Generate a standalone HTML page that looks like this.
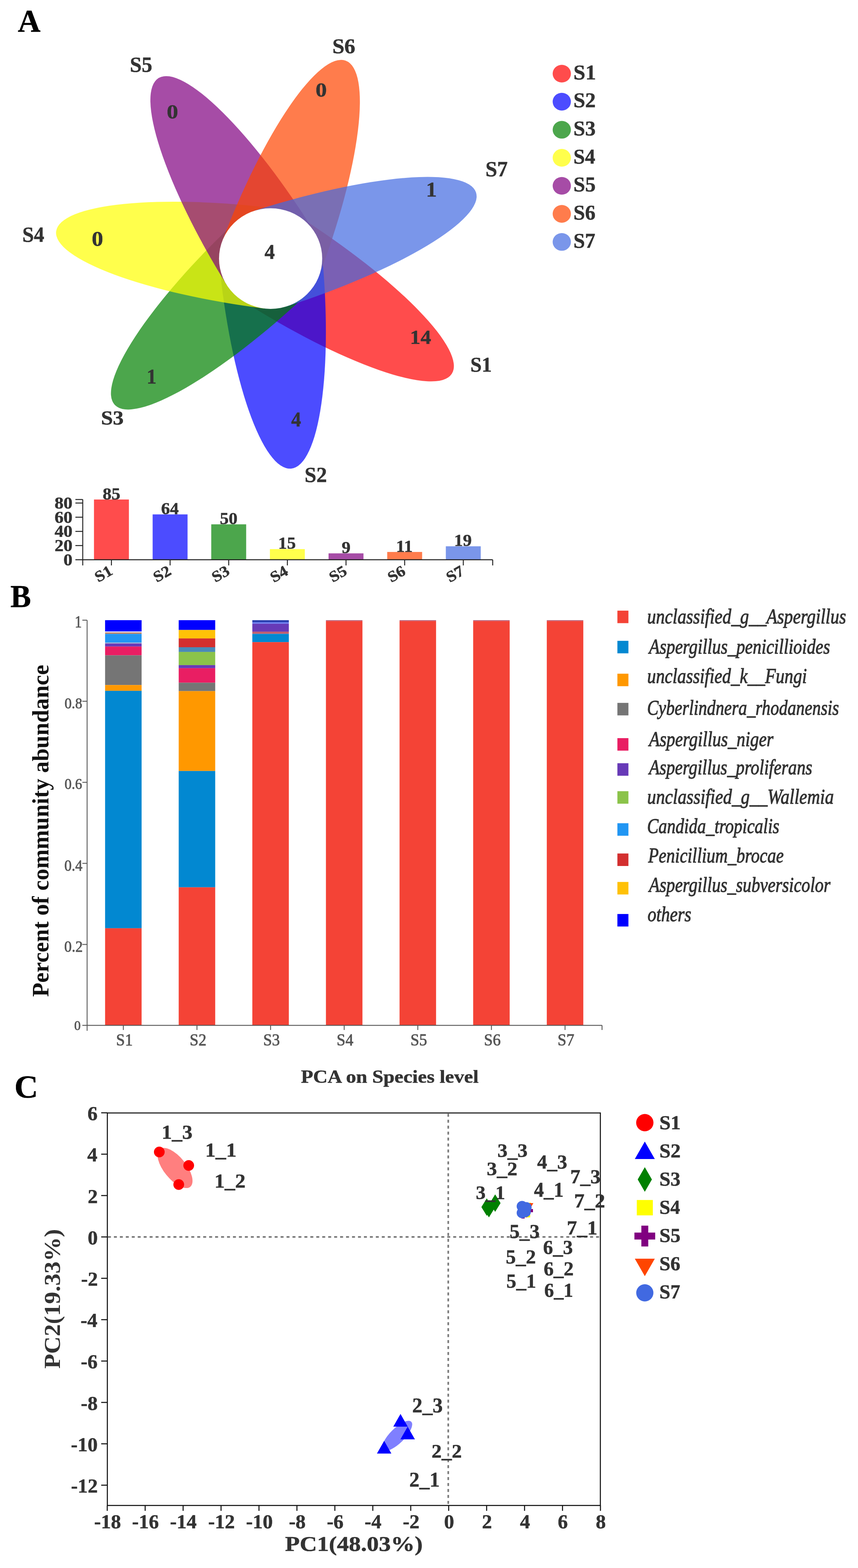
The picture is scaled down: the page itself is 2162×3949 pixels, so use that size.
<!DOCTYPE html>
<html><head><meta charset="utf-8"><title>Figure</title>
<style>html,body{margin:0;padding:0;background:#fff;}svg{display:block;}
text{font-family:"Liberation Serif","Times New Roman",serif;}</style></head>
<body><svg width="2162" height="3949" viewBox="0 0 2162 3949">
<rect width="2162" height="3949" fill="#fff"/>
<text x="45.1" y="79.5" font-size="80.2" font-weight="bold" font-style="normal" fill="#000" textLength="57.0" lengthAdjust="spacingAndGlyphs" stroke="#000" stroke-width="0.7" stroke-linejoin="round">A</text>
<g transform="translate(681.9,651.2) scale(1,0.975)">
<path d="M0,-130.0 A545.0,130.0 0 0 1 0,130.0 Z" transform="rotate(33.150)" fill="#ff0000" fill-opacity="0.7"/>
<path d="M0,-130.0 A545.0,130.0 0 0 1 0,130.0 Z" transform="rotate(84.579)" fill="#0000ff" fill-opacity="0.7"/>
<path d="M0,-130.0 A545.0,130.0 0 0 1 0,130.0 Z" transform="rotate(136.007)" fill="#008000" fill-opacity="0.7"/>
<path d="M0,-130.0 A545.0,130.0 0 0 1 0,130.0 Z" transform="rotate(187.436)" fill="#ffff00" fill-opacity="0.7"/>
<path d="M0,-130.0 A545.0,130.0 0 0 1 0,130.0 Z" transform="rotate(238.864)" fill="#800080" fill-opacity="0.7"/>
<path d="M0,-130.0 A545.0,130.0 0 0 1 0,130.0 Z" transform="rotate(290.293)" fill="#ff4500" fill-opacity="0.7"/>
<path d="M0,-130.0 A545.0,130.0 0 0 1 0,130.0 Z" transform="rotate(341.721)" fill="#4169e1" fill-opacity="0.7"/>
<circle cx="0" cy="0" r="130" fill="#fff"/>
</g>
<text x="666.6" y="651.6" font-size="53.6" font-weight="bold" font-style="normal" fill="#333" textLength="26.0" lengthAdjust="spacingAndGlyphs" stroke="#333" stroke-width="0.7" stroke-linejoin="round">4</text>
<text x="1033.1" y="865.6" font-size="51.1" font-weight="bold" font-style="normal" fill="#333" textLength="53.1" lengthAdjust="spacingAndGlyphs" stroke="#333" stroke-width="0.7" stroke-linejoin="round">14</text>
<text x="733.7" y="1073.7" font-size="52.1" font-weight="bold" font-style="normal" fill="#333" textLength="24.9" lengthAdjust="spacingAndGlyphs" stroke="#333" stroke-width="0.7" stroke-linejoin="round">4</text>
<text x="369.4" y="965.6" font-size="52.0" font-weight="bold" font-style="normal" fill="#333" textLength="24.9" lengthAdjust="spacingAndGlyphs" stroke="#333" stroke-width="0.7" stroke-linejoin="round">1</text>
<text x="231.2" y="619.1" font-size="52.3" font-weight="bold" font-style="normal" fill="#333" textLength="28.7" lengthAdjust="spacingAndGlyphs" stroke="#333" stroke-width="0.7" stroke-linejoin="round">0</text>
<text x="420.2" y="297.7" font-size="51.7" font-weight="bold" font-style="normal" fill="#333" textLength="28.7" lengthAdjust="spacingAndGlyphs" stroke="#333" stroke-width="0.7" stroke-linejoin="round">0</text>
<text x="795.2" y="243.1" font-size="50.8" font-weight="bold" font-style="normal" fill="#333" textLength="28.2" lengthAdjust="spacingAndGlyphs" stroke="#333" stroke-width="0.7" stroke-linejoin="round">0</text>
<text x="1073.5" y="494.8" font-size="51.8" font-weight="bold" font-style="normal" fill="#333" textLength="27.3" lengthAdjust="spacingAndGlyphs" stroke="#333" stroke-width="0.7" stroke-linejoin="round">1</text>
<text x="1185.2" y="936.1" font-size="52.5" font-weight="bold" font-style="normal" fill="#333" textLength="54.1" lengthAdjust="spacingAndGlyphs" stroke="#333" stroke-width="0.7" stroke-linejoin="round">S1</text>
<text x="767.5" y="1214.1" font-size="54.0" font-weight="bold" font-style="normal" fill="#333" textLength="56.4" lengthAdjust="spacingAndGlyphs" stroke="#333" stroke-width="0.7" stroke-linejoin="round">S2</text>
<text x="254.5" y="1069.1" font-size="51.0" font-weight="bold" font-style="normal" fill="#333" textLength="57.0" lengthAdjust="spacingAndGlyphs" stroke="#333" stroke-width="0.7" stroke-linejoin="round">S3</text>
<text x="56.2" y="609.4" font-size="54.9" font-weight="bold" font-style="normal" fill="#333" textLength="55.4" lengthAdjust="spacingAndGlyphs" stroke="#333" stroke-width="0.7" stroke-linejoin="round">S4</text>
<text x="327.3" y="180.8" font-size="55.1" font-weight="bold" font-style="normal" fill="#333" textLength="56.3" lengthAdjust="spacingAndGlyphs" stroke="#333" stroke-width="0.7" stroke-linejoin="round">S5</text>
<text x="837.4" y="133.6" font-size="52.7" font-weight="bold" font-style="normal" fill="#333" textLength="57.8" lengthAdjust="spacingAndGlyphs" stroke="#333" stroke-width="0.7" stroke-linejoin="round">S6</text>
<text x="1223.2" y="444.4" font-size="54.3" font-weight="bold" font-style="normal" fill="#333" textLength="56.1" lengthAdjust="spacingAndGlyphs" stroke="#333" stroke-width="0.7" stroke-linejoin="round">S7</text>
<ellipse cx="1415.6" cy="185.5" rx="23" ry="22.3" fill="#ff0000" fill-opacity="0.7"/>
<text x="1445.0" y="199.7" font-size="53.0" font-weight="bold" font-style="normal" fill="#333" textLength="56.8" lengthAdjust="spacingAndGlyphs" stroke="#333" stroke-width="0.7" stroke-linejoin="round">S1</text>
<ellipse cx="1415.6" cy="256.1" rx="23" ry="22.3" fill="#0000ff" fill-opacity="0.7"/>
<text x="1445.0" y="270.4" font-size="53.0" font-weight="bold" font-style="normal" fill="#333" textLength="56.2" lengthAdjust="spacingAndGlyphs" stroke="#333" stroke-width="0.7" stroke-linejoin="round">S2</text>
<ellipse cx="1415.6" cy="326.8" rx="23" ry="22.3" fill="#008000" fill-opacity="0.7"/>
<text x="1445.1" y="341.0" font-size="53.0" font-weight="bold" font-style="normal" fill="#333" textLength="55.7" lengthAdjust="spacingAndGlyphs" stroke="#333" stroke-width="0.7" stroke-linejoin="round">S3</text>
<ellipse cx="1415.6" cy="397.4" rx="23" ry="22.3" fill="#ffff00" fill-opacity="0.7"/>
<text x="1445.1" y="411.6" font-size="53.0" font-weight="bold" font-style="normal" fill="#333" textLength="54.8" lengthAdjust="spacingAndGlyphs" stroke="#333" stroke-width="0.7" stroke-linejoin="round">S4</text>
<ellipse cx="1415.6" cy="468.0" rx="23" ry="22.3" fill="#800080" fill-opacity="0.7"/>
<text x="1445.0" y="482.2" font-size="53.0" font-weight="bold" font-style="normal" fill="#333" textLength="55.9" lengthAdjust="spacingAndGlyphs" stroke="#333" stroke-width="0.7" stroke-linejoin="round">S5</text>
<ellipse cx="1415.6" cy="538.6" rx="23" ry="22.3" fill="#ff4500" fill-opacity="0.7"/>
<text x="1445.1" y="552.9" font-size="53.0" font-weight="bold" font-style="normal" fill="#333" textLength="55.4" lengthAdjust="spacingAndGlyphs" stroke="#333" stroke-width="0.7" stroke-linejoin="round">S6</text>
<ellipse cx="1415.6" cy="609.3" rx="23" ry="22.3" fill="#4169e1" fill-opacity="0.7"/>
<text x="1445.1" y="623.5" font-size="53.0" font-weight="bold" font-style="normal" fill="#333" textLength="55.1" lengthAdjust="spacingAndGlyphs" stroke="#333" stroke-width="0.7" stroke-linejoin="round">S7</text>
<rect x="236.8" y="1258.0" width="88" height="151.7" fill="#ff0000" fill-opacity="0.7"/>
<rect x="384.6" y="1295.5" width="88" height="114.2" fill="#0000ff" fill-opacity="0.7"/>
<rect x="532.3" y="1320.5" width="88" height="89.2" fill="#008000" fill-opacity="0.7"/>
<rect x="680.1" y="1382.9" width="88" height="26.8" fill="#ffff00" fill-opacity="0.7"/>
<rect x="827.9" y="1393.6" width="88" height="16.1" fill="#800080" fill-opacity="0.7"/>
<rect x="975.7" y="1390.1" width="88" height="19.6" fill="#ff4500" fill-opacity="0.7"/>
<rect x="1123.4" y="1375.8" width="88" height="33.9" fill="#4169e1" fill-opacity="0.7"/>
<text x="258.7" y="1257.5" font-size="43.0" font-weight="bold" font-style="normal" fill="#333" textLength="44.4" lengthAdjust="spacingAndGlyphs" stroke="#333" stroke-width="0.7" stroke-linejoin="round">85</text>
<text x="406.0" y="1295.0" font-size="43.0" font-weight="bold" font-style="normal" fill="#333" textLength="44.4" lengthAdjust="spacingAndGlyphs" stroke="#333" stroke-width="0.7" stroke-linejoin="round">64</text>
<text x="554.1" y="1320.0" font-size="43.0" font-weight="bold" font-style="normal" fill="#333" textLength="44.4" lengthAdjust="spacingAndGlyphs" stroke="#333" stroke-width="0.7" stroke-linejoin="round">50</text>
<text x="701.0" y="1382.4" font-size="43.0" font-weight="bold" font-style="normal" fill="#333" textLength="44.4" lengthAdjust="spacingAndGlyphs" stroke="#333" stroke-width="0.7" stroke-linejoin="round">15</text>
<text x="861.0" y="1393.1" font-size="43.0" font-weight="bold" font-style="normal" fill="#333" textLength="22.2" lengthAdjust="spacingAndGlyphs" stroke="#333" stroke-width="0.7" stroke-linejoin="round">9</text>
<text x="998.0" y="1389.6" font-size="43.0" font-weight="bold" font-style="normal" fill="#333" textLength="42.0" lengthAdjust="spacingAndGlyphs" stroke="#333" stroke-width="0.7" stroke-linejoin="round">11</text>
<text x="1144.2" y="1375.3" font-size="43.0" font-weight="bold" font-style="normal" fill="#333" textLength="44.4" lengthAdjust="spacingAndGlyphs" stroke="#333" stroke-width="0.7" stroke-linejoin="round">19</text>
<g stroke="#222" stroke-width="2.4" fill="none">
<line x1="208.5" y1="1258.0" x2="208.5" y2="1424"/>
<line x1="190" y1="1409.7" x2="1241.5" y2="1409.7"/>
<line x1="190" y1="1374.0" x2="208.5" y2="1374.0"/>
<line x1="190" y1="1338.3" x2="208.5" y2="1338.3"/>
<line x1="190" y1="1302.6" x2="208.5" y2="1302.6"/>
<line x1="190" y1="1266.9" x2="208.5" y2="1266.9"/>
<line x1="190" y1="1258.0" x2="208.5" y2="1258.0"/>
<line x1="280.8" y1="1409.7" x2="280.8" y2="1424"/>
<line x1="428.6" y1="1409.7" x2="428.6" y2="1424"/>
<line x1="576.3" y1="1409.7" x2="576.3" y2="1424"/>
<line x1="724.1" y1="1409.7" x2="724.1" y2="1424"/>
<line x1="871.9" y1="1409.7" x2="871.9" y2="1424"/>
<line x1="1019.7" y1="1409.7" x2="1019.7" y2="1424"/>
<line x1="1167.4" y1="1409.7" x2="1167.4" y2="1424"/>
<line x1="1241.5" y1="1409.7" x2="1241.5" y2="1424"/>
</g>
<text x="160.1" y="1423.6" font-size="42.5" font-weight="bold" font-style="normal" fill="#333" textLength="22.6" lengthAdjust="spacingAndGlyphs" stroke="#333" stroke-width="0.7" stroke-linejoin="round">0</text>
<text x="137.5" y="1387.9" font-size="42.5" font-weight="bold" font-style="normal" fill="#333" textLength="45.2" lengthAdjust="spacingAndGlyphs" stroke="#333" stroke-width="0.7" stroke-linejoin="round">20</text>
<text x="137.5" y="1352.2" font-size="42.5" font-weight="bold" font-style="normal" fill="#333" textLength="45.2" lengthAdjust="spacingAndGlyphs" stroke="#333" stroke-width="0.7" stroke-linejoin="round">40</text>
<text x="137.5" y="1316.5" font-size="42.5" font-weight="bold" font-style="normal" fill="#333" textLength="45.2" lengthAdjust="spacingAndGlyphs" stroke="#333" stroke-width="0.7" stroke-linejoin="round">60</text>
<text x="137.5" y="1280.8" font-size="42.5" font-weight="bold" font-style="normal" fill="#333" textLength="45.2" lengthAdjust="spacingAndGlyphs" stroke="#333" stroke-width="0.7" stroke-linejoin="round">80</text>
<text transform="translate(284.6,1446.0) rotate(-30)" x="-42.5" y="0" font-size="38.8" font-weight="bold" font-style="normal" fill="#333" textLength="44.7" lengthAdjust="spacingAndGlyphs" stroke="#333" stroke-width="0.7" stroke-linejoin="round">S1</text>
<text transform="translate(432.4,1446.0) rotate(-30)" x="-42.8" y="0" font-size="38.8" font-weight="bold" font-style="normal" fill="#333" textLength="44.7" lengthAdjust="spacingAndGlyphs" stroke="#333" stroke-width="0.7" stroke-linejoin="round">S2</text>
<text transform="translate(580.1,1446.0) rotate(-30)" x="-43.2" y="0" font-size="38.8" font-weight="bold" font-style="normal" fill="#333" textLength="44.7" lengthAdjust="spacingAndGlyphs" stroke="#333" stroke-width="0.7" stroke-linejoin="round">S3</text>
<text transform="translate(727.9,1446.0) rotate(-30)" x="-43.9" y="0" font-size="38.8" font-weight="bold" font-style="normal" fill="#333" textLength="44.7" lengthAdjust="spacingAndGlyphs" stroke="#333" stroke-width="0.7" stroke-linejoin="round">S4</text>
<text transform="translate(875.7,1446.0) rotate(-30)" x="-43.1" y="0" font-size="38.8" font-weight="bold" font-style="normal" fill="#333" textLength="44.7" lengthAdjust="spacingAndGlyphs" stroke="#333" stroke-width="0.7" stroke-linejoin="round">S5</text>
<text transform="translate(1023.5,1446.0) rotate(-30)" x="-43.4" y="0" font-size="38.8" font-weight="bold" font-style="normal" fill="#333" textLength="44.7" lengthAdjust="spacingAndGlyphs" stroke="#333" stroke-width="0.7" stroke-linejoin="round">S6</text>
<text transform="translate(1171.2,1446.0) rotate(-30)" x="-43.6" y="0" font-size="38.8" font-weight="bold" font-style="normal" fill="#333" textLength="44.7" lengthAdjust="spacingAndGlyphs" stroke="#333" stroke-width="0.7" stroke-linejoin="round">S7</text>
<text x="26.2" y="1529.4" font-size="79.6" font-weight="bold" font-style="normal" fill="#000" textLength="51.9" lengthAdjust="spacingAndGlyphs" stroke="#000" stroke-width="0.7" stroke-linejoin="round">B</text>
<rect x="264.8" y="1561.9" width="92" height="28.5" fill="#0000ff"/>
<rect x="264.8" y="1590.4" width="92" height="2.6" fill="#e8e0f0"/>
<rect x="264.8" y="1593.0" width="92" height="3.4" fill="#c08060"/>
<rect x="264.8" y="1596.4" width="92" height="21.7" fill="#2196f3"/>
<rect x="264.8" y="1618.1" width="92" height="2.5" fill="#9ab0d8"/>
<rect x="264.8" y="1620.6" width="92" height="7.7" fill="#673ab7"/>
<rect x="264.8" y="1628.3" width="92" height="22.1" fill="#e91e63"/>
<rect x="264.8" y="1650.4" width="92" height="74.9" fill="#757575"/>
<rect x="264.8" y="1725.3" width="92" height="14.5" fill="#ff9800"/>
<rect x="264.8" y="1739.8" width="92" height="598.0" fill="#0288d1"/>
<rect x="264.8" y="2337.8" width="92" height="245.0" fill="#f44336"/>
<rect x="450.3" y="1561.9" width="92" height="24.7" fill="#0000ff"/>
<rect x="450.3" y="1586.6" width="92" height="21.3" fill="#ffc107"/>
<rect x="450.3" y="1607.9" width="92" height="22.1" fill="#d32f2f"/>
<rect x="450.3" y="1630.0" width="92" height="11.9" fill="#4a8ab8"/>
<rect x="450.3" y="1641.9" width="92" height="33.2" fill="#8bc34a"/>
<rect x="450.3" y="1675.1" width="92" height="7.7" fill="#673ab7"/>
<rect x="450.3" y="1682.8" width="92" height="36.6" fill="#e91e63"/>
<rect x="450.3" y="1719.4" width="92" height="21.2" fill="#757575"/>
<rect x="450.3" y="1740.6" width="92" height="201.1" fill="#ff9800"/>
<rect x="450.3" y="1941.7" width="92" height="293.0" fill="#0288d1"/>
<rect x="450.3" y="2234.7" width="92" height="348.1" fill="#f44336"/>
<rect x="635.8" y="1561.9" width="92" height="5.1" fill="#2a40b0"/>
<rect x="635.8" y="1567.0" width="92" height="3.9" fill="#7080f0"/>
<rect x="635.8" y="1570.9" width="92" height="20.0" fill="#673ab7"/>
<rect x="635.8" y="1590.9" width="92" height="5.5" fill="#c06070"/>
<rect x="635.8" y="1596.4" width="92" height="20.8" fill="#0288d1"/>
<rect x="635.8" y="1617.2" width="92" height="965.6" fill="#f44336"/>
<rect x="821.3" y="1561.9" width="92" height="2.3" fill="#b8607a"/>
<rect x="821.3" y="1564.2" width="92" height="1018.6" fill="#f44336"/>
<rect x="1006.8" y="1561.9" width="92" height="2.3" fill="#b8607a"/>
<rect x="1006.8" y="1564.2" width="92" height="1018.6" fill="#f44336"/>
<rect x="1192.3" y="1561.9" width="92" height="2.3" fill="#b8607a"/>
<rect x="1192.3" y="1564.2" width="92" height="1018.6" fill="#f44336"/>
<rect x="1377.8" y="1561.9" width="92" height="2.3" fill="#b8607a"/>
<rect x="1377.8" y="1564.2" width="92" height="1018.6" fill="#f44336"/>
<g stroke="#555" stroke-width="2.2" fill="none">
<line x1="219.5" y1="1561.9" x2="219.5" y2="2596"/>
<line x1="207.5" y1="2582.3" x2="1517" y2="2582.3"/>
<line x1="207.5" y1="2378.6" x2="219.5" y2="2378.6"/>
<line x1="207.5" y1="2174.4" x2="219.5" y2="2174.4"/>
<line x1="207.5" y1="1970.3" x2="219.5" y2="1970.3"/>
<line x1="207.5" y1="1766.1" x2="219.5" y2="1766.1"/>
<line x1="207.5" y1="1561.9" x2="219.5" y2="1561.9"/>
<line x1="310.8" y1="2582.3" x2="310.8" y2="2594"/>
<line x1="496.3" y1="2582.3" x2="496.3" y2="2594"/>
<line x1="681.8" y1="2582.3" x2="681.8" y2="2594"/>
<line x1="867.3" y1="2582.3" x2="867.3" y2="2594"/>
<line x1="1052.8" y1="2582.3" x2="1052.8" y2="2594"/>
<line x1="1238.3" y1="2582.3" x2="1238.3" y2="2594"/>
<line x1="1423.8" y1="2582.3" x2="1423.8" y2="2594"/>
<line x1="1517" y1="2582.3" x2="1517" y2="2594"/>
</g>
<text x="188.3" y="1579.5" font-size="41.2" font-weight="normal" font-style="normal" fill="#555" textLength="17.9" lengthAdjust="spacingAndGlyphs" stroke="#555" stroke-width="1.0" stroke-linejoin="round">1</text>
<text x="162.7" y="1783.6" font-size="37.8" font-weight="normal" font-style="normal" fill="#555" textLength="44.5" lengthAdjust="spacingAndGlyphs" stroke="#555" stroke-width="1.0" stroke-linejoin="round">0.8</text>
<text x="162.8" y="1987.2" font-size="38.6" font-weight="normal" font-style="normal" fill="#555" textLength="44.2" lengthAdjust="spacingAndGlyphs" stroke="#555" stroke-width="1.0" stroke-linejoin="round">0.6</text>
<text x="162.2" y="2192.6" font-size="40.9" font-weight="normal" font-style="normal" fill="#555" textLength="45.6" lengthAdjust="spacingAndGlyphs" stroke="#555" stroke-width="1.0" stroke-linejoin="round">0.4</text>
<text x="162.1" y="2397.2" font-size="40.9" font-weight="normal" font-style="normal" fill="#555" textLength="46.5" lengthAdjust="spacingAndGlyphs" stroke="#555" stroke-width="1.0" stroke-linejoin="round">0.2</text>
<text x="186.9" y="2594.2" font-size="33.6" font-weight="normal" font-style="normal" fill="#555" textLength="16.3" lengthAdjust="spacingAndGlyphs" stroke="#555" stroke-width="1.0" stroke-linejoin="round">0</text>
<text x="292.6" y="2632.6" font-size="41.2" font-weight="normal" font-style="normal" fill="#555" textLength="42.1" lengthAdjust="spacingAndGlyphs" stroke="#555" stroke-width="1.0" stroke-linejoin="round">S1</text>
<text x="478.0" y="2632.6" font-size="41.2" font-weight="normal" font-style="normal" fill="#555" textLength="42.1" lengthAdjust="spacingAndGlyphs" stroke="#555" stroke-width="1.0" stroke-linejoin="round">S2</text>
<text x="663.2" y="2632.6" font-size="41.2" font-weight="normal" font-style="normal" fill="#555" textLength="42.1" lengthAdjust="spacingAndGlyphs" stroke="#555" stroke-width="1.0" stroke-linejoin="round">S3</text>
<text x="848.3" y="2632.6" font-size="41.2" font-weight="normal" font-style="normal" fill="#555" textLength="42.1" lengthAdjust="spacingAndGlyphs" stroke="#555" stroke-width="1.0" stroke-linejoin="round">S4</text>
<text x="1034.2" y="2632.6" font-size="41.2" font-weight="normal" font-style="normal" fill="#555" textLength="42.1" lengthAdjust="spacingAndGlyphs" stroke="#555" stroke-width="1.0" stroke-linejoin="round">S5</text>
<text x="1219.5" y="2632.6" font-size="41.2" font-weight="normal" font-style="normal" fill="#555" textLength="42.1" lengthAdjust="spacingAndGlyphs" stroke="#555" stroke-width="1.0" stroke-linejoin="round">S6</text>
<text x="1405.0" y="2632.6" font-size="41.2" font-weight="normal" font-style="normal" fill="#555" textLength="42.1" lengthAdjust="spacingAndGlyphs" stroke="#555" stroke-width="1.0" stroke-linejoin="round">S7</text>
<text transform="translate(122.4,2509.6) rotate(-90)" x="-1.0" y="0" font-size="58.3" font-weight="bold" fill="#111" textLength="836.4" lengthAdjust="spacingAndGlyphs">Percent of community abundance</text>
<rect x="1555.7" y="1537.9" width="27.8" height="31.5" fill="#f44336"/>
<text x="1630.8" y="1569.5" font-size="53.0" font-weight="normal" font-style="italic" fill="#333" textLength="501.1" lengthAdjust="spacingAndGlyphs" stroke="#333" stroke-width="1.3" stroke-linejoin="round">unclassified_g__Aspergillus</text>
<rect x="1555.7" y="1613.9" width="27.8" height="31.5" fill="#0288d1"/>
<text x="1635.4" y="1645.7" font-size="53.0" font-weight="normal" font-style="italic" fill="#333" textLength="456.2" lengthAdjust="spacingAndGlyphs" stroke="#333" stroke-width="1.3" stroke-linejoin="round">Aspergillus_penicillioides</text>
<rect x="1555.7" y="1696.7" width="27.8" height="31.5" fill="#ff9800"/>
<text x="1630.8" y="1719.6" font-size="53.0" font-weight="normal" font-style="italic" fill="#333" textLength="402.5" lengthAdjust="spacingAndGlyphs" stroke="#333" stroke-width="1.3" stroke-linejoin="round">unclassified_k__Fungi</text>
<rect x="1555.7" y="1770.2" width="27.8" height="31.5" fill="#757575"/>
<text x="1630.6" y="1800.3" font-size="53.0" font-weight="normal" font-style="italic" fill="#333" textLength="483.4" lengthAdjust="spacingAndGlyphs" stroke="#333" stroke-width="1.3" stroke-linejoin="round">Cyberlindnera_rhodanensis</text>
<rect x="1555.7" y="1859.0" width="27.8" height="31.5" fill="#e91e63"/>
<text x="1635.4" y="1878.7" font-size="53.0" font-weight="normal" font-style="italic" fill="#333" textLength="313.5" lengthAdjust="spacingAndGlyphs" stroke="#333" stroke-width="1.3" stroke-linejoin="round">Aspergillus_niger</text>
<rect x="1555.7" y="1922.2" width="27.8" height="31.5" fill="#673ab7"/>
<text x="1635.4" y="1950.4" font-size="53.0" font-weight="normal" font-style="italic" fill="#333" textLength="411.3" lengthAdjust="spacingAndGlyphs" stroke="#333" stroke-width="1.3" stroke-linejoin="round">Aspergillus_proliferans</text>
<rect x="1555.7" y="1992.6" width="27.8" height="31.5" fill="#8bc34a"/>
<text x="1630.8" y="2024.0" font-size="53.0" font-weight="normal" font-style="italic" fill="#333" textLength="470.2" lengthAdjust="spacingAndGlyphs" stroke="#333" stroke-width="1.3" stroke-linejoin="round">unclassified_g__Wallemia</text>
<rect x="1555.7" y="2073.3" width="27.8" height="31.5" fill="#2196f3"/>
<text x="1630.6" y="2098.0" font-size="53.0" font-weight="normal" font-style="italic" fill="#333" textLength="333.2" lengthAdjust="spacingAndGlyphs" stroke="#333" stroke-width="1.3" stroke-linejoin="round">Candida_tropicalis</text>
<rect x="1555.7" y="2149.5" width="27.8" height="31.5" fill="#d32f2f"/>
<text x="1633.2" y="2171.9" font-size="53.0" font-weight="normal" font-style="italic" fill="#333" textLength="341.5" lengthAdjust="spacingAndGlyphs" stroke="#333" stroke-width="1.3" stroke-linejoin="round">Penicillium_brocae</text>
<rect x="1555.7" y="2221.2" width="27.8" height="31.5" fill="#ffc107"/>
<text x="1635.4" y="2245.8" font-size="53.0" font-weight="normal" font-style="italic" fill="#333" textLength="457.0" lengthAdjust="spacingAndGlyphs" stroke="#333" stroke-width="1.3" stroke-linejoin="round">Aspergillus_subversicolor</text>
<rect x="1555.7" y="2301.9" width="27.8" height="31.5" fill="#0000ff"/>
<text x="1631.7" y="2319.8" font-size="53.0" font-weight="normal" font-style="italic" fill="#333" textLength="110.3" lengthAdjust="spacingAndGlyphs" stroke="#333" stroke-width="1.3" stroke-linejoin="round">others</text>
<text x="36.3" y="2764.0" font-size="81.2" font-weight="bold" font-style="normal" fill="#000" textLength="59.9" lengthAdjust="spacingAndGlyphs" stroke="#000" stroke-width="0.7" stroke-linejoin="round">C</text>
<text x="758.2" y="2727.2" font-size="46.1" font-weight="bold" font-style="normal" fill="#333" textLength="447.8" lengthAdjust="spacingAndGlyphs" stroke="#333" stroke-width="0.7" stroke-linejoin="round">PCA on Species level</text>
<g stroke="#777" stroke-width="4" stroke-dasharray="7.5 7.5" fill="none">
<line x1="272" y1="3115.2" x2="1511" y2="3115.2"/>
<line x1="1129.5" y1="2805" x2="1129.5" y2="3790"/>
</g>
<ellipse cx="0" cy="0" rx="61" ry="28" transform="translate(441,2941.5) rotate(51)" fill="#ff0000" fill-opacity="0.5"/>
<circle cx="401.4" cy="2901.3" r="13.5" fill="#ff0000"/>
<circle cx="475.5" cy="2935.3" r="13.5" fill="#ff0000"/>
<circle cx="450.4" cy="2983.2" r="13.5" fill="#ff0000"/>
<ellipse cx="0" cy="0" rx="50" ry="18.5" transform="translate(1001,3616) rotate(-45)" fill="#0000ff" fill-opacity="0.5"/>
<polygon points="1009.2,3561.1 991.0,3593.1 1027.5,3593.1" fill="#0000ff"/>
<polygon points="1027.2,3593.0 1009.0,3625.0 1045.5,3625.0" fill="#0000ff"/>
<polygon points="968.0,3628.7 949.8,3660.7 986.2,3660.7" fill="#0000ff"/>
<polygon points="1226.6,3018 1240.1999999999998,3040 1226.6,3062 1213.0,3040" fill="#008000"/>
<polygon points="1232,3022 1245.6,3044 1232,3066 1218.4,3044" fill="#008000"/>
<polygon points="1247.7,3008 1261.3,3030 1247.7,3052 1234.1000000000001,3030" fill="#008000"/>
<rect x="1319" y="3029" width="19" height="19" fill="#ffff00"/>
<rect x="1317" y="3047" width="19" height="19" fill="#ffff00"/>
<path d="M1327.0,3037.0h8v8.0h8.0v8h-8.0v8.0h-8v-8.0h-8.0v-8h8.0z" fill="#800080"/>
<path d="M1314.0,3045.0h8v8.0h8.0v8h-8.0v8.0h-8v-8.0h-8.0v-8h8.0z" fill="#800080"/>
<polygon points="1322.0,3030.0 1344.0,3030.0 1333.0,3049.0" fill="#ff4500"/>
<polygon points="1316.0,3048.0 1338.0,3048.0 1327.0,3067.0" fill="#ff4500"/>
<circle cx="1315.5" cy="3038" r="13.6" fill="#4169e1"/>
<circle cx="1326" cy="3041" r="13.6" fill="#4169e1"/>
<circle cx="1315.5" cy="3054.5" r="13.6" fill="#4169e1"/>
<circle cx="1324" cy="3052" r="13.6" fill="#4169e1"/>
<g stroke="#111" stroke-width="2.6" fill="none">
<rect x="270.5" y="2803" width="1242.3" height="988.5"/>
<line x1="270.2" y1="3791.5" x2="270.2" y2="3805"/>
<line x1="365.8" y1="3791.5" x2="365.8" y2="3805"/>
<line x1="461.4" y1="3791.5" x2="461.4" y2="3805"/>
<line x1="557.0" y1="3791.5" x2="557.0" y2="3805"/>
<line x1="652.6" y1="3791.5" x2="652.6" y2="3805"/>
<line x1="748.2" y1="3791.5" x2="748.2" y2="3805"/>
<line x1="843.8" y1="3791.5" x2="843.8" y2="3805"/>
<line x1="939.4" y1="3791.5" x2="939.4" y2="3805"/>
<line x1="1035.0" y1="3791.5" x2="1035.0" y2="3805"/>
<line x1="1130.6" y1="3791.5" x2="1130.6" y2="3805"/>
<line x1="1226.2" y1="3791.5" x2="1226.2" y2="3805"/>
<line x1="1321.8" y1="3791.5" x2="1321.8" y2="3805"/>
<line x1="1417.4" y1="3791.5" x2="1417.4" y2="3805"/>
<line x1="1513.0" y1="3791.5" x2="1513.0" y2="3805"/>
<line x1="255" y1="3740.4" x2="270.5" y2="3740.4"/>
<line x1="255" y1="3636.2" x2="270.5" y2="3636.2"/>
<line x1="255" y1="3532.0" x2="270.5" y2="3532.0"/>
<line x1="255" y1="3427.8" x2="270.5" y2="3427.8"/>
<line x1="255" y1="3323.6" x2="270.5" y2="3323.6"/>
<line x1="255" y1="3219.4" x2="270.5" y2="3219.4"/>
<line x1="255" y1="3115.2" x2="270.5" y2="3115.2"/>
<line x1="255" y1="3011.0" x2="270.5" y2="3011.0"/>
<line x1="255" y1="2906.8" x2="270.5" y2="2906.8"/>
<line x1="255" y1="2802.6" x2="270.5" y2="2802.6"/>
</g>
<text x="237.3" y="3849.4" font-size="50.5" font-weight="bold" font-style="normal" fill="#333" textLength="67.5" lengthAdjust="spacingAndGlyphs" stroke="#333" stroke-width="0.7" stroke-linejoin="round">-18</text>
<text x="332.8" y="3849.4" font-size="50.5" font-weight="bold" font-style="normal" fill="#333" textLength="67.5" lengthAdjust="spacingAndGlyphs" stroke="#333" stroke-width="0.7" stroke-linejoin="round">-16</text>
<text x="428.2" y="3849.4" font-size="50.5" font-weight="bold" font-style="normal" fill="#333" textLength="67.5" lengthAdjust="spacingAndGlyphs" stroke="#333" stroke-width="0.7" stroke-linejoin="round">-14</text>
<text x="524.4" y="3849.4" font-size="50.5" font-weight="bold" font-style="normal" fill="#333" textLength="67.5" lengthAdjust="spacingAndGlyphs" stroke="#333" stroke-width="0.7" stroke-linejoin="round">-12</text>
<text x="619.9" y="3849.4" font-size="50.5" font-weight="bold" font-style="normal" fill="#333" textLength="67.5" lengthAdjust="spacingAndGlyphs" stroke="#333" stroke-width="0.7" stroke-linejoin="round">-10</text>
<text x="728.0" y="3849.4" font-size="50.5" font-weight="bold" font-style="normal" fill="#333" textLength="42.2" lengthAdjust="spacingAndGlyphs" stroke="#333" stroke-width="0.7" stroke-linejoin="round">-8</text>
<text x="823.5" y="3849.4" font-size="50.5" font-weight="bold" font-style="normal" fill="#333" textLength="42.2" lengthAdjust="spacingAndGlyphs" stroke="#333" stroke-width="0.7" stroke-linejoin="round">-6</text>
<text x="918.8" y="3849.4" font-size="50.5" font-weight="bold" font-style="normal" fill="#333" textLength="42.2" lengthAdjust="spacingAndGlyphs" stroke="#333" stroke-width="0.7" stroke-linejoin="round">-4</text>
<text x="1015.0" y="3849.4" font-size="50.5" font-weight="bold" font-style="normal" fill="#333" textLength="42.2" lengthAdjust="spacingAndGlyphs" stroke="#333" stroke-width="0.7" stroke-linejoin="round">-2</text>
<text x="1118.9" y="3849.4" font-size="50.5" font-weight="bold" font-style="normal" fill="#333" textLength="25.3" lengthAdjust="spacingAndGlyphs" stroke="#333" stroke-width="0.7" stroke-linejoin="round">0</text>
<text x="1214.6" y="3849.4" font-size="50.5" font-weight="bold" font-style="normal" fill="#333" textLength="25.3" lengthAdjust="spacingAndGlyphs" stroke="#333" stroke-width="0.7" stroke-linejoin="round">2</text>
<text x="1310.3" y="3849.4" font-size="50.5" font-weight="bold" font-style="normal" fill="#333" textLength="25.3" lengthAdjust="spacingAndGlyphs" stroke="#333" stroke-width="0.7" stroke-linejoin="round">4</text>
<text x="1405.6" y="3849.4" font-size="50.5" font-weight="bold" font-style="normal" fill="#333" textLength="25.3" lengthAdjust="spacingAndGlyphs" stroke="#333" stroke-width="0.7" stroke-linejoin="round">6</text>
<text x="1501.3" y="3849.4" font-size="50.5" font-weight="bold" font-style="normal" fill="#333" textLength="25.3" lengthAdjust="spacingAndGlyphs" stroke="#333" stroke-width="0.7" stroke-linejoin="round">8</text>
<text x="178.9" y="3759.1" font-size="50.5" font-weight="bold" font-style="normal" fill="#333" textLength="67.5" lengthAdjust="spacingAndGlyphs" stroke="#333" stroke-width="0.7" stroke-linejoin="round">-12</text>
<text x="178.7" y="3654.7" font-size="50.5" font-weight="bold" font-style="normal" fill="#333" textLength="67.5" lengthAdjust="spacingAndGlyphs" stroke="#333" stroke-width="0.7" stroke-linejoin="round">-10</text>
<text x="203.8" y="3550.5" font-size="50.5" font-weight="bold" font-style="normal" fill="#333" textLength="42.2" lengthAdjust="spacingAndGlyphs" stroke="#333" stroke-width="0.7" stroke-linejoin="round">-8</text>
<text x="203.6" y="3446.3" font-size="50.5" font-weight="bold" font-style="normal" fill="#333" textLength="42.2" lengthAdjust="spacingAndGlyphs" stroke="#333" stroke-width="0.7" stroke-linejoin="round">-6</text>
<text x="203.1" y="3342.2" font-size="50.5" font-weight="bold" font-style="normal" fill="#333" textLength="42.2" lengthAdjust="spacingAndGlyphs" stroke="#333" stroke-width="0.7" stroke-linejoin="round">-4</text>
<text x="204.3" y="3238.1" font-size="50.5" font-weight="bold" font-style="normal" fill="#333" textLength="42.2" lengthAdjust="spacingAndGlyphs" stroke="#333" stroke-width="0.7" stroke-linejoin="round">-2</text>
<text x="220.9" y="3133.7" font-size="50.5" font-weight="bold" font-style="normal" fill="#333" textLength="25.3" lengthAdjust="spacingAndGlyphs" stroke="#333" stroke-width="0.7" stroke-linejoin="round">0</text>
<text x="221.1" y="3029.7" font-size="50.5" font-weight="bold" font-style="normal" fill="#333" textLength="25.3" lengthAdjust="spacingAndGlyphs" stroke="#333" stroke-width="0.7" stroke-linejoin="round">2</text>
<text x="219.9" y="2925.4" font-size="50.5" font-weight="bold" font-style="normal" fill="#333" textLength="25.3" lengthAdjust="spacingAndGlyphs" stroke="#333" stroke-width="0.7" stroke-linejoin="round">4</text>
<text x="220.4" y="2821.1" font-size="50.5" font-weight="bold" font-style="normal" fill="#333" textLength="25.3" lengthAdjust="spacingAndGlyphs" stroke="#333" stroke-width="0.7" stroke-linejoin="round">6</text>
<text x="718.3" y="3905.5" font-size="52.1" font-weight="bold" font-style="normal" fill="#333" textLength="346.8" lengthAdjust="spacingAndGlyphs" stroke="#333" stroke-width="0.7" stroke-linejoin="round">PC1(48.03%)</text>
<text transform="translate(150.8,3446.0) rotate(-90)" x="-1.0" y="0" font-size="56.2" font-weight="bold" fill="#333" textLength="351.7" lengthAdjust="spacingAndGlyphs">PC2(19.33%)</text>
<text x="407.2" y="2868.4" font-size="49.9" font-weight="bold" font-style="normal" fill="#333" textLength="77.9" lengthAdjust="spacingAndGlyphs" stroke="#333" stroke-width="0.7" stroke-linejoin="round">1_3</text>
<text x="517.1" y="2912.7" font-size="50.1" font-weight="bold" font-style="normal" fill="#333" textLength="78.8" lengthAdjust="spacingAndGlyphs" stroke="#333" stroke-width="0.7" stroke-linejoin="round">1_1</text>
<text x="540.2" y="2990.7" font-size="49.9" font-weight="bold" font-style="normal" fill="#333" textLength="78.4" lengthAdjust="spacingAndGlyphs" stroke="#333" stroke-width="0.7" stroke-linejoin="round">1_2</text>
<text x="1253.4" y="2913.8" font-size="49.1" font-weight="bold" font-style="normal" fill="#333" textLength="75.9" lengthAdjust="spacingAndGlyphs" stroke="#333" stroke-width="0.7" stroke-linejoin="round">3_3</text>
<text x="1226.4" y="2959.8" font-size="49.4" font-weight="bold" font-style="normal" fill="#333" textLength="77.3" lengthAdjust="spacingAndGlyphs" stroke="#333" stroke-width="0.7" stroke-linejoin="round">3_2</text>
<text x="1199.0" y="3020.3" font-size="48.7" font-weight="bold" font-style="normal" fill="#333" textLength="73.8" lengthAdjust="spacingAndGlyphs" stroke="#333" stroke-width="0.7" stroke-linejoin="round">3_1</text>
<text x="1353.6" y="2943.4" font-size="50.6" font-weight="bold" font-style="normal" fill="#333" textLength="75.7" lengthAdjust="spacingAndGlyphs" stroke="#333" stroke-width="0.7" stroke-linejoin="round">4_3</text>
<text x="1345.4" y="3014.0" font-size="52.6" font-weight="bold" font-style="normal" fill="#333" textLength="74.9" lengthAdjust="spacingAndGlyphs" stroke="#333" stroke-width="0.7" stroke-linejoin="round">4_1</text>
<text x="1436.9" y="2980.3" font-size="50.6" font-weight="bold" font-style="normal" fill="#333" textLength="76.2" lengthAdjust="spacingAndGlyphs" stroke="#333" stroke-width="0.7" stroke-linejoin="round">7_3</text>
<text x="1446.7" y="3041.3" font-size="50.6" font-weight="bold" font-style="normal" fill="#333" textLength="78.2" lengthAdjust="spacingAndGlyphs" stroke="#333" stroke-width="0.7" stroke-linejoin="round">7_2</text>
<text x="1428.3" y="3109.3" font-size="50.6" font-weight="bold" font-style="normal" fill="#333" textLength="77.2" lengthAdjust="spacingAndGlyphs" stroke="#333" stroke-width="0.7" stroke-linejoin="round">7_1</text>
<text x="1283.9" y="3117.8" font-size="50.6" font-weight="bold" font-style="normal" fill="#333" textLength="75.9" lengthAdjust="spacingAndGlyphs" stroke="#333" stroke-width="0.7" stroke-linejoin="round">5_3</text>
<text x="1368.5" y="3157.6" font-size="50.6" font-weight="bold" font-style="normal" fill="#333" textLength="75.0" lengthAdjust="spacingAndGlyphs" stroke="#333" stroke-width="0.7" stroke-linejoin="round">6_3</text>
<text x="1274.5" y="3181.7" font-size="50.3" font-weight="bold" font-style="normal" fill="#333" textLength="75.9" lengthAdjust="spacingAndGlyphs" stroke="#333" stroke-width="0.7" stroke-linejoin="round">5_2</text>
<text x="1369.9" y="3211.5" font-size="50.6" font-weight="bold" font-style="normal" fill="#333" textLength="75.5" lengthAdjust="spacingAndGlyphs" stroke="#333" stroke-width="0.7" stroke-linejoin="round">6_2</text>
<text x="1276.1" y="3242.6" font-size="50.4" font-weight="bold" font-style="normal" fill="#333" textLength="74.8" lengthAdjust="spacingAndGlyphs" stroke="#333" stroke-width="0.7" stroke-linejoin="round">5_1</text>
<text x="1371.4" y="3265.7" font-size="50.3" font-weight="bold" font-style="normal" fill="#333" textLength="72.8" lengthAdjust="spacingAndGlyphs" stroke="#333" stroke-width="0.7" stroke-linejoin="round">6_1</text>
<text x="1038.8" y="3557.4" font-size="52.1" font-weight="bold" font-style="normal" fill="#333" textLength="76.8" lengthAdjust="spacingAndGlyphs" stroke="#333" stroke-width="0.7" stroke-linejoin="round">2_3</text>
<text x="1087.5" y="3670.7" font-size="47.8" font-weight="bold" font-style="normal" fill="#333" textLength="76.3" lengthAdjust="spacingAndGlyphs" stroke="#333" stroke-width="0.7" stroke-linejoin="round">2_2</text>
<text x="1031.6" y="3744.4" font-size="51.9" font-weight="bold" font-style="normal" fill="#333" textLength="76.4" lengthAdjust="spacingAndGlyphs" stroke="#333" stroke-width="0.7" stroke-linejoin="round">2_1</text>
<circle cx="1624.8" cy="2827.4" r="21.8" fill="#ff0000"/>
<polygon points="1624.8,2874.9 1599.6,2918.9 1650.0,2918.9" fill="#0000ff"/>
<polygon points="1624.8,2939.4 1642.7,2970.5 1624.8,3001.6 1606.8999999999999,2970.5" fill="#008000"/>
<rect x="1604.6" y="3022.2" width="40.4" height="38.7" fill="#ffff00"/>
<path d="M1616.1,3086.8h17.4v17.5h17.5v17.4h-17.5v17.5h-17.4v-17.5h-17.5v-17.4h17.5z" fill="#800080"/>
<polygon points="1599.6,3169.9 1650.0,3169.9 1624.8,3213.9" fill="#ff4500"/>
<circle cx="1624.8" cy="3256" r="21.7" fill="#4169e1"/>
<text x="1661.4" y="2843.7" font-size="51.5" font-weight="bold" font-style="normal" fill="#333" textLength="54.1" lengthAdjust="spacingAndGlyphs" stroke="#333" stroke-width="0.7" stroke-linejoin="round">S1</text>
<text x="1661.5" y="2914.7" font-size="51.5" font-weight="bold" font-style="normal" fill="#333" textLength="53.6" lengthAdjust="spacingAndGlyphs" stroke="#333" stroke-width="0.7" stroke-linejoin="round">S2</text>
<text x="1661.5" y="2985.7" font-size="51.5" font-weight="bold" font-style="normal" fill="#333" textLength="53.1" lengthAdjust="spacingAndGlyphs" stroke="#333" stroke-width="0.7" stroke-linejoin="round">S3</text>
<text x="1661.5" y="3056.7" font-size="51.5" font-weight="bold" font-style="normal" fill="#333" textLength="52.3" lengthAdjust="spacingAndGlyphs" stroke="#333" stroke-width="0.7" stroke-linejoin="round">S4</text>
<text x="1661.5" y="3127.7" font-size="51.5" font-weight="bold" font-style="normal" fill="#333" textLength="53.2" lengthAdjust="spacingAndGlyphs" stroke="#333" stroke-width="0.7" stroke-linejoin="round">S5</text>
<text x="1661.5" y="3198.7" font-size="51.5" font-weight="bold" font-style="normal" fill="#333" textLength="52.8" lengthAdjust="spacingAndGlyphs" stroke="#333" stroke-width="0.7" stroke-linejoin="round">S6</text>
<text x="1661.5" y="3269.7" font-size="51.5" font-weight="bold" font-style="normal" fill="#333" textLength="52.5" lengthAdjust="spacingAndGlyphs" stroke="#333" stroke-width="0.7" stroke-linejoin="round">S7</text>
</svg></body></html>
